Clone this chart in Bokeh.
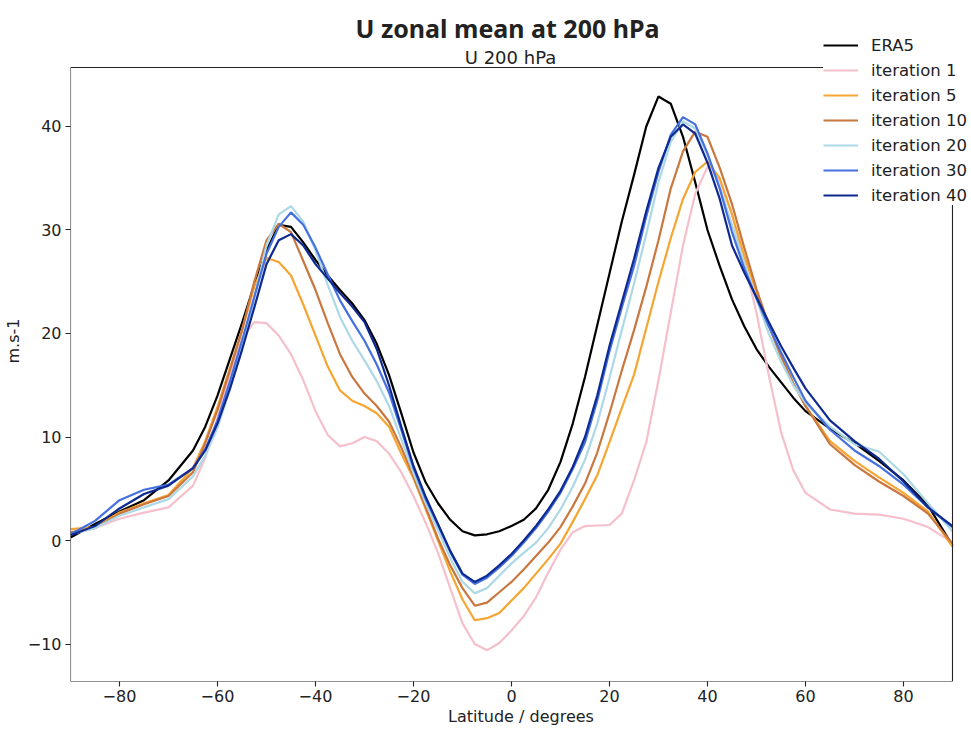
from bokeh.plotting import figure
from bokeh.models import Legend, LegendItem, Label, FixedTicker, Range1d, BoxAnnotation
from bokeh.embed import file_html
from bokeh.resources import INLINE

# ---------------- data ----------------
lat = [-90, -85, -80, -75, -70, -65, -62.5, -60, -57.5, -55, -52.5, -50, -47.5, -45,
       -42.5, -40, -37.5, -35, -32.5, -30, -27.5, -25, -22.5, -20, -17.5, -15, -12.5,
       -10, -7.5, -5, -2.5, 0, 2.5, 5, 7.5, 10, 12.5, 15, 17.5, 20, 22.5, 25, 27.5,
       30, 32.5, 35, 37.5, 40, 42.5, 45, 47.5, 50, 52.5, 55, 57.5, 60, 65, 70, 75,
       80, 85, 90]

era5 = [0.3, 1.6, 2.8, 3.9, 5.8,
        8.7, 11.0, 14.0, 17.5, 21.0, 24.7, 28.0, 30.5, 30.3, 28.8, 27.1, 25.6, 24.2,
        22.9, 21.3, 19.0, 16.0, 12.3, 8.5, 5.6, 3.6, 2.0, 0.9, 0.5, 0.6, 0.9, 1.4,
        2.0, 3.1, 4.9, 7.6, 11.3, 15.8, 20.8, 25.8, 30.8, 35.3, 40.0, 42.9, 42.2,
        39.0, 34.6, 30.0, 26.5, 23.3, 20.7, 18.5, 16.8, 15.3, 13.8, 12.5,
        10.8, 9.4, 7.7, 5.8, 3.4, -0.5]

iter1 = [0.6, 1.2, 2.1, 2.7, 3.2,
         5.3, 8.0, 11.8, 16.0, 19.5, 21.1, 21.0, 19.8, 18.0, 15.5, 12.5, 10.2, 9.1,
         9.4, 10.0, 9.6, 8.4, 6.6, 4.3, 1.7, -1.2, -4.6, -8.0, -10.0, -10.6, -9.9, -8.7,
         -7.3, -5.5, -3.1, -0.9, 0.8, 1.4, 1.45, 1.5, 2.6, 5.8, 9.5, 15.5, 22.0,
         28.5, 33.5, 36.1, 34.8, 31.5, 27.0, 22.0, 16.0, 10.5, 6.8, 4.6,
         3.0, 2.6, 2.5, 2.1, 1.3, -0.2]

iter5 = [1.1, 1.3, 2.7, 3.6, 4.4,
         7.0, 9.6, 12.9, 16.6, 20.3, 24.5, 27.3, 26.9, 25.6, 22.8, 19.8, 16.8, 14.5,
         13.5, 13.0, 12.3, 11.0, 8.4, 6.0, 3.0, 0.0, -3.0, -5.7, -7.7, -7.5, -7.0, -5.8,
         -4.6, -3.2, -1.8, -0.3, 1.8, 4.0, 6.3, 9.5, 12.8, 16.0, 20.5, 25.0, 29.2,
         33.0, 35.6, 36.6, 35.0, 31.5, 27.5, 24.0, 20.8, 17.8, 15.2, 13.0,
         9.6, 7.7, 6.1, 4.6, 2.8, -0.6]

iter10 = [0.8, 1.2, 2.6, 3.5, 4.3,
          6.6, 9.4, 12.6, 16.4, 20.3, 25.0, 29.0, 30.6, 29.8, 27.0, 24.2, 21.0, 18.0,
          15.8, 14.2, 13.0, 11.5, 9.0, 6.2, 3.2, 0.2, -2.4, -4.6, -6.3, -6.0, -5.0, -4.0,
          -2.8, -1.5, -0.2, 1.3, 3.3, 5.5, 8.5, 12.3, 16.4, 20.3, 24.5, 29.0, 34.0,
          37.6, 39.5, 39.0, 36.0, 32.5, 28.3, 24.3, 20.8, 17.8, 15.2, 13.0,
          9.3, 7.3, 5.7, 4.3, 2.6, -0.3]

iter20 = [0.6, 1.2, 2.4, 3.2, 4.0,
          6.2, 8.2, 10.9, 14.6, 18.8, 23.5, 28.5, 31.5, 32.3, 30.8, 28.0, 24.7, 21.6,
          19.3, 17.4, 15.4, 13.0, 9.8, 6.5, 3.6, 1.0, -1.7, -4.0, -5.1, -4.6, -3.4, -2.2,
          -1.2, -0.2, 1.2, 3.0, 5.2, 7.8, 11.3, 15.7, 20.3, 24.8, 29.6, 34.6, 38.5,
          40.5, 39.8, 37.2, 34.2, 30.5, 26.8, 23.3, 20.0, 17.3, 15.0, 13.3,
          11.0, 9.3, 8.6, 6.4, 3.6, 0.9]

iter30 = [0.6, 1.9, 3.9, 4.9, 5.4,
          7.0, 8.8, 11.6, 15.3, 19.3, 23.5, 27.7, 30.3, 31.7, 30.5, 28.3, 25.7, 23.2,
          21.2, 19.3, 17.0, 14.3, 10.7, 7.0, 4.0, 1.5, -1.1, -3.3, -4.2, -3.6, -2.6, -1.5,
          -0.2, 1.2, 2.8, 4.6, 6.9, 9.5, 13.5, 18.3, 22.5, 26.5, 31.3, 35.6, 39.2,
          40.9, 40.2, 37.4, 34.0, 29.8, 26.3, 23.4, 20.7, 18.2, 15.8, 13.5,
          10.7, 8.7, 7.2, 5.4, 3.2, 1.3]

iter40 = [0.5, 1.4, 3.1, 4.5, 5.3,
          7.0, 8.7, 11.3, 14.6, 18.4, 22.5, 26.7, 29.0, 29.6, 28.5, 26.7, 25.3, 23.9,
          22.6, 21.1, 18.5, 15.0, 11.0, 7.2, 4.2, 1.6, -1.0, -3.2, -4.0, -3.4, -2.4, -1.3,
          0.0, 1.4, 3.0, 4.8, 7.1, 10.0, 14.0, 18.8, 23.0, 27.2, 31.8, 36.0, 39.0,
          40.2, 39.3, 36.5, 33.0, 28.5, 25.9, 23.5, 21.1, 18.8, 16.7, 14.7,
          11.6, 9.6, 7.9, 5.7, 3.2, 1.4]

series_names = ["ERA5", "iteration 1", "iteration 5", "iteration 10",
                "iteration 20", "iteration 30", "iteration 40"]
series_values = [era5, iter1, iter5, iter10, iter20, iter30, iter40]
series_colors = ["#000000", "#F5C0CB", "#F6A530", "#C9773F",
                 "#ADD8E6", "#4570E0", "#0E2A90"]

x_ticks = [-80, -60, -40, -20, 0, 20, 40, 60, 80]
y_ticks = [-10, 0, 10, 20, 30, 40]
x_limits = (-90, 90)
y_limits = (-13.62, 45.7)

main_title = "U zonal mean at 200 hPa"
sub_title = "U 200 hPa"
x_label = "Latitude / degrees"
y_label = "m.s-1"

for s in series_values:
    assert len(s) == len(lat)

# ---------------- figure ----------------
# The drawing frame spans the whole canvas above the x axis and right of the
# y axis; the matplotlib-like axes box is drawn as a box annotation inside it.
FONT = "DejaVu Sans"
INK = "#222222"
p = figure(width=971, height=730, output_backend="svg", toolbar_location=None,
           x_range=Range1d(-90, 93.88), y_range=Range1d(-13.62, 52.17),
           min_border_left=70, min_border_right=0, min_border_top=0,
           min_border_bottom=49)
p.xgrid.visible = False
p.ygrid.visible = False
p.outline_line_color = None
p.background_fill_color = "white"
p.border_fill_color = "white"


def minus(v):
    return str(v).replace("-", "\u2212")


for ax, ticks, lab in ((p.xaxis[0], x_ticks, x_label), (p.yaxis[0], y_ticks, y_label)):
    ax.ticker = FixedTicker(ticks=ticks)
    ax.major_label_overrides = {t: minus(t) for t in ticks}
    ax.minor_tick_line_color = None
    ax.major_tick_out = 5
    ax.major_tick_in = 0
    ax.major_tick_line_color = INK
    ax.major_tick_line_width = 1.1
    ax.axis_line_color = None
    ax.major_label_text_font = FONT
    ax.major_label_text_font_size = "16px"
    ax.major_label_text_color = INK
    ax.axis_label = lab
    ax.axis_label_text_font = FONT
    ax.axis_label_text_font_size = "16px"
    ax.axis_label_text_font_style = "normal"
    ax.axis_label_text_color = INK
p.xaxis[0].major_label_standoff = 3
p.xaxis[0].axis_label_standoff = 2
p.yaxis[0].major_label_standoff = 4
p.yaxis[0].axis_label_standoff = 2

# axes box (spines)
p.add_layout(BoxAnnotation(left=x_limits[0], right=x_limits[1],
                           bottom=y_limits[0], top=y_limits[1],
                           fill_color=None, fill_alpha=0,
                           line_color=INK, line_alpha=1.0, line_width=1.1))

items = []
for name, vals, col in zip(series_names, series_values, series_colors):
    r = p.line(lat, vals, line_color=col, line_width=2.2)
    items.append(LegendItem(label=name, renderers=[r]))

legend = Legend(items=items, location=(753, 476),
                background_fill_color="white", background_fill_alpha=1.0,
                border_line_color=None, padding=4, margin=0, spacing=5,
                glyph_width=35, glyph_height=20, label_height=20,
                label_standoff=13,
                label_text_font=FONT, label_text_font_size="16.5px",
                label_text_color=INK)
p.add_layout(legend)

p.add_layout(Label(x=437, y=654, x_units="screen", y_units="screen",
                   text=main_title, text_align="center", text_baseline="alphabetic",
                   text_font="Noto Sans", text_font_style="bold",
                   text_font_size="25px", text_color=INK))
p.add_layout(Label(x=440, y=624, x_units="screen", y_units="screen",
                   text=sub_title, text_align="center", text_baseline="alphabetic",
                   text_font=FONT, text_font_size="18px", text_color=INK))

open("out.html", "w").write(file_html(p, INLINE))
